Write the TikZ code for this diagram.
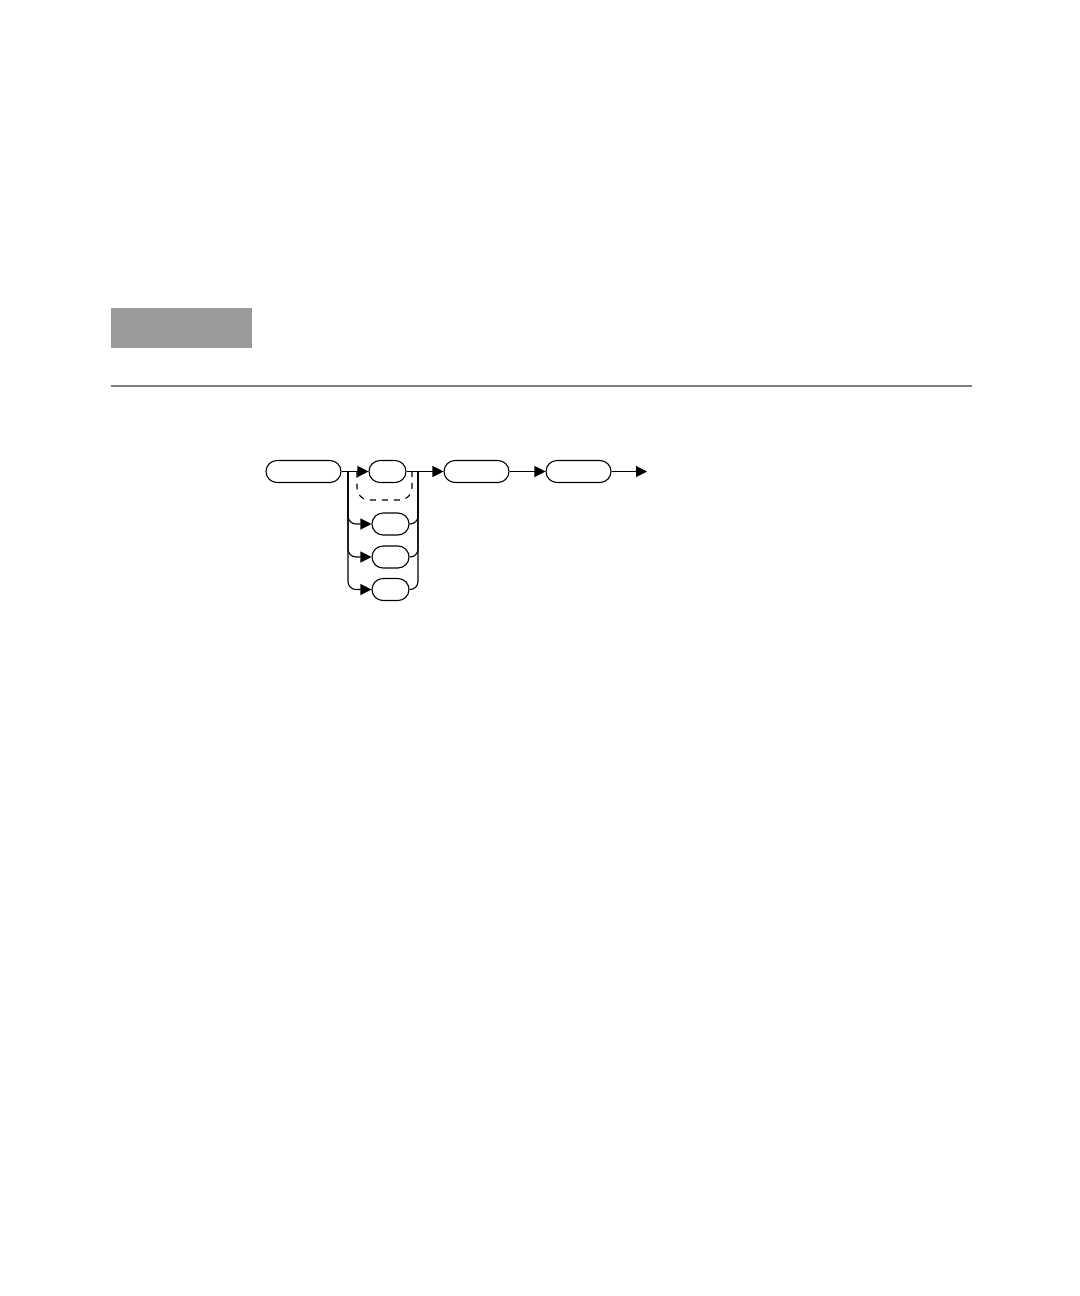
\documentclass[tikz,border=0pt]{standalone}
\usetikzlibrary{arrows.meta}
\definecolor{barfill}{RGB}{155,155,155}
\definecolor{rulegray}{RGB}{128,128,128}
\begin{document}
\begin{tikzpicture}[x=0.5pt,y=-0.5pt,
  pill/.style={draw,line width=0.55pt,rounded corners=5.5pt,inner sep=0pt,minimum height=11pt},
  conn/.style={line width=0.55pt},
  arr/.style={conn,-{Triangle[length=5.5pt,width=5.5pt]}},
  roundbend/.style={rounded corners=4pt}]
\useasboundingbox (0,0) rectangle (1080,1296);
% header bar and rule
\node[fill=barfill,inner sep=0pt,minimum width=70.5pt,minimum height=20pt,anchor=north west] (bar) at (111,308) {};
\coordinate (ruleL) at (111,386);
\coordinate (ruleR) at (972,386);
\draw[rulegray,line width=0.7pt] (ruleL) -- (ruleR);
% nodes
\node[pill,minimum width=37.5pt] (A) at (303.5,471.5) {};
\node[pill,minimum width=18.5pt] (B) at (387.5,471.5) {};
\node[pill,minimum width=18.5pt] (C) at (390.5,524) {};
\node[pill,minimum width=18.5pt] (D) at (390.5,557) {};
\node[pill,minimum width=18.5pt] (E) at (390.5,589.5) {};
\node[pill,minimum width=32.5pt] (F) at (476.5,471.5) {};
\node[pill,minimum width=32.5pt] (G) at (578.5,471.5) {};
\coordinate (L) at (348,471.5);
\coordinate (R) at (418,471.5);
\coordinate (dL) at (357,471.5);
\coordinate (dR) at (412,471.5);
\coordinate (endpt) at (647,471.5);
% connectors
\draw[arr] (A.east) -- (B.west);
\draw[arr,roundbend] (L) |- (C.west);
\draw[arr,roundbend] (L) |- (D.west);
\draw[arr,roundbend] (L) |- (E.west);
\draw[conn,roundbend] (C.east) -| (R);
\draw[conn,roundbend] (D.east) -| (R);
\draw[conn,roundbend] (E.east) -| (R);
\draw[arr] (B.east) -- (F.west);
\draw[conn,dash pattern=on 3pt off 3pt,rounded corners=6pt] (dL) -- (357,500) -- (412,500) -- (dR);
\draw[arr] (F.east) -- (G.west);
\draw[arr] (G.east) -- (endpt);
\end{tikzpicture}
\end{document}
